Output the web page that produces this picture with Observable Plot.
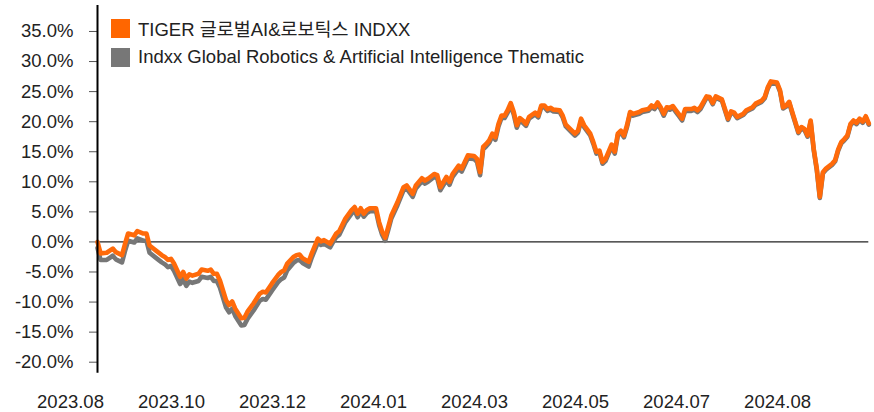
<!DOCTYPE html>
<html><head><meta charset="utf-8">
<script src="https://cdn.jsdelivr.net/npm/d3@7"></script>
<script src="https://cdn.jsdelivr.net/npm/@observablehq/plot@0.6"></script>
<style>
body{margin:0;background:#fff;font-family:"Liberation Sans",Arial,sans-serif;}
#wrap{position:relative;width:874px;height:412px;overflow:hidden}
.legend{position:absolute;left:111px;top:13.5px;font-size:18.5px;color:#222;font-family:"Liberation Sans","Noto Sans CJK KR",sans-serif}
.item{display:flex;align-items:center;height:29px;white-space:nowrap}
.sw{width:19px;height:19px;margin-right:8px;flex:none}
</style></head><body><div id="wrap"></div>
<script>
const seriesNames = ["TIGER 글로벌AI&로보틱스 INDXX", "Indxx Global Robotics & Artificial Intelligence Thematic"];
const seriesColors = ["#FF6A0A", "#777777"];
const legendColors = ["#FF6600", "#777777"];

const tickDays = [0, 33, 66, 99, 132, 165, 198, 231];
const tickLabels = ["2023.08", "2023.10", "2023.12", "2024.01", "2024.03", "2024.05", "2024.07", "2024.08"];
const yTicks = [-20, -15, -10, -5, 0, 5, 10, 15, 20, 25, 30, 35];

// trading-day index from the start of the chart
const day = [0,1,3,5,6,8,9,10,12,13,15,16,17,19,21,22,23,24,25,27,28,29,30,31,33,34,36,37,38,39,40,42,43,44,45,47,48,49,51,53,54,55,57,59,60,61,62,64,65,66,67,69,70,72,73,74,76,77,78,79,81,83,84,85,86,87,88,89,91,92,93,94,95,96,98,100,101,103,104,106,107,108,110,111,112,114,115,116,118,119,121,123,124,125,126,127,128,129,130,131,132,133,134,135,136,137,138,139,140,141,143,144,145,146,147,148,149,151,152,153,155,156,157,158,159,161,162,163,164,165,166,167,168,169,170,171,172,173,174,175,177,178,180,181,182,183,184,185,186,187,188,189,190,191,192,194,195,196,197,199,200,201,202,204,205,206,207,208,209,211,212,214,215,217,218,219,220,222,223,224,225,226,227,229,230,231,232,233,234,235,236,237,238,240,241,242,243,244,245,246,247,248,249,250,251,252];

// cumulative return (%)
const tiger = [0.0,-1.9,-1.8,-1.1,-1.7,-2.2,-0.3,1.4,1.1,1.8,1.4,1.4,-0.6,-1.4,-2.2,-2.5,-3.0,-2.8,-3.6,-5.8,-5.0,-6.1,-5.4,-5.6,-5.3,-4.6,-4.8,-4.6,-5.3,-5.3,-6.4,-9.7,-10.5,-9.9,-11.1,-12.7,-12.6,-11.6,-10.2,-8.6,-8.3,-8.4,-6.9,-5.5,-5.0,-4.7,-3.6,-2.5,-2.2,-2.1,-2.7,-3.3,-1.9,0.55,0.1,0.3,-0.3,0.55,1.4,1.8,3.9,5.3,5.8,4.7,5.6,4.7,5.3,5.6,5.6,3.3,1.7,0.7,2.5,4.4,6.6,9.1,9.4,8.0,9.4,10.6,10.2,10.5,11.3,11.1,9.1,10.8,10.0,11.3,12.7,12.2,14.4,14.3,13.8,11.6,15.8,16.3,16.9,18.0,17.4,19.6,21.0,21.0,21.9,23.1,21.6,19.4,20.6,20.2,19.6,20.8,21.5,21.0,22.7,22.7,22.1,22.3,22.0,21.9,21.0,19.5,18.5,18.0,18.5,20.5,19.4,18.0,16.6,15.0,15.2,13.3,13.8,15.0,16.2,15.0,18.0,18.5,17.7,19.4,21.6,21.3,21.6,21.9,22.1,22.7,22.4,23.2,22.4,21.3,22.4,22.3,22.6,21.9,21.2,20.5,22.1,22.1,22.3,21.9,22.4,24.2,24.1,23.1,24.2,23.7,22.1,20.5,21.7,21.5,20.8,21.3,21.9,22.4,23.0,23.5,24.1,25.7,26.7,26.5,25.2,22.4,22.7,23.3,21.6,18.3,19.1,18.8,17.7,20.2,15.5,12.2,7.5,11.6,12.2,13.0,13.6,15.4,16.6,17.1,17.7,19.6,20.2,19.8,20.5,20.0,20.9,19.7];

const indxx = [-1.0,-3.0,-3.0,-2.3,-2.9,-3.4,-1.5,0.2,-0.1,0.6,0.2,0.2,-1.8,-2.6,-3.4,-3.7,-4.2,-4.0,-4.8,-7.0,-6.2,-7.3,-6.6,-6.8,-6.5,-5.8,-6.0,-5.8,-6.5,-6.5,-7.6,-10.9,-11.7,-11.1,-12.3,-13.9,-13.8,-12.8,-11.4,-9.8,-9.5,-9.6,-8.1,-6.7,-6.2,-5.9,-4.7,-3.5,-3.1,-3.0,-3.5,-4.1,-2.6,-0.1,-0.5,-0.3,-0.9,0.0,0.8,1.2,3.3,4.7,5.2,4.1,5.1,4.2,4.8,5.1,5.1,2.8,1.2,0.2,2.0,3.9,6.1,8.6,8.9,7.5,8.9,10.1,9.7,10.0,10.8,10.6,8.6,10.3,9.5,10.8,12.2,11.7,13.9,13.8,13.3,11.1,15.4,15.9,16.5,17.6,17.0,19.2,20.6,20.6,21.5,22.7,21.2,19.0,20.2,19.8,19.3,20.5,21.2,20.7,22.4,22.4,21.8,22.0,21.7,21.6,20.7,19.2,18.2,17.7,18.2,20.2,19.1,17.7,16.3,14.7,14.9,13.0,13.5,14.7,15.9,14.7,17.7,18.2,17.4,19.1,21.3,21.0,21.3,21.6,21.8,22.4,22.1,22.9,22.1,21.0,22.1,22.0,22.3,21.6,20.9,20.2,21.8,21.8,22.0,21.6,22.1,24.0,23.9,22.9,24.0,23.5,21.9,20.3,21.5,21.3,20.6,21.1,21.7,22.2,22.8,23.3,23.9,25.5,26.5,26.3,25.0,22.2,22.5,23.1,21.4,18.1,18.9,18.6,17.5,20.0,15.3,12.0,7.3,11.4,12.0,12.8,13.4,15.2,16.4,16.9,17.5,19.4,20.0,19.6,20.3,19.8,20.7,19.5];

const rows = day.map((d, i) => ({day: d, tiger: tiger[i], indxx: indxx[i]}));
const yDomain = [-21.83, 39.32];

const chart = Plot.plot({
  width: 874,
  height: 412,
  marginLeft: 97,
  marginRight: 5.7,
  marginTop: 5,
  marginBottom: 39.3,
  style: {fontFamily: '"Liberation Sans", Arial, sans-serif', fontSize: "18.5px", color: "#222", background: "#fff", overflow: "visible"},
  x: {domain: [0, 252]},
  y: {domain: yDomain},
  marks: [
    Plot.axisY({ticks: yTicks, tickFormat: d => d.toFixed(1) + "%", tickSize: 8, tickPadding: 16, label: null, fontSize: 18.5, stroke: "#555", fill: "#222"}),
    Plot.axisX({ticks: tickDays, tickFormat: (d, i) => tickLabels[i], tickSize: 0, tickPadding: 22, dx: -27, label: null, fontSize: 18.5, fill: "#222"}),
    Plot.ruleY([0], {stroke: "#222", strokeWidth: 1.2}),
    Plot.line(rows, {x: "day", y: "indxx", stroke: seriesColors[1], strokeWidth: 4.6, strokeLinejoin: "round"}),
    Plot.line(rows, {x: "day", y: "tiger", stroke: seriesColors[0], strokeWidth: 4.6, strokeLinejoin: "round"}),
    Plot.ruleX([0], {y1: yDomain[0], y2: yDomain[1], stroke: "#000", strokeWidth: 2})
  ]
});

const wrap = document.getElementById("wrap");
wrap.appendChild(chart);
const legend = document.createElement("div");
legend.className = "legend";
seriesNames.forEach((name, i) => {
  const item = document.createElement("div");
  item.className = "item";
  const sw = document.createElement("span");
  sw.className = "sw";
  sw.style.background = legendColors[i];
  const t = document.createElement("span");
  t.textContent = name;
  item.appendChild(sw);
  item.appendChild(t);
  legend.appendChild(item);
});
wrap.appendChild(legend);
</script>
</body></html>
